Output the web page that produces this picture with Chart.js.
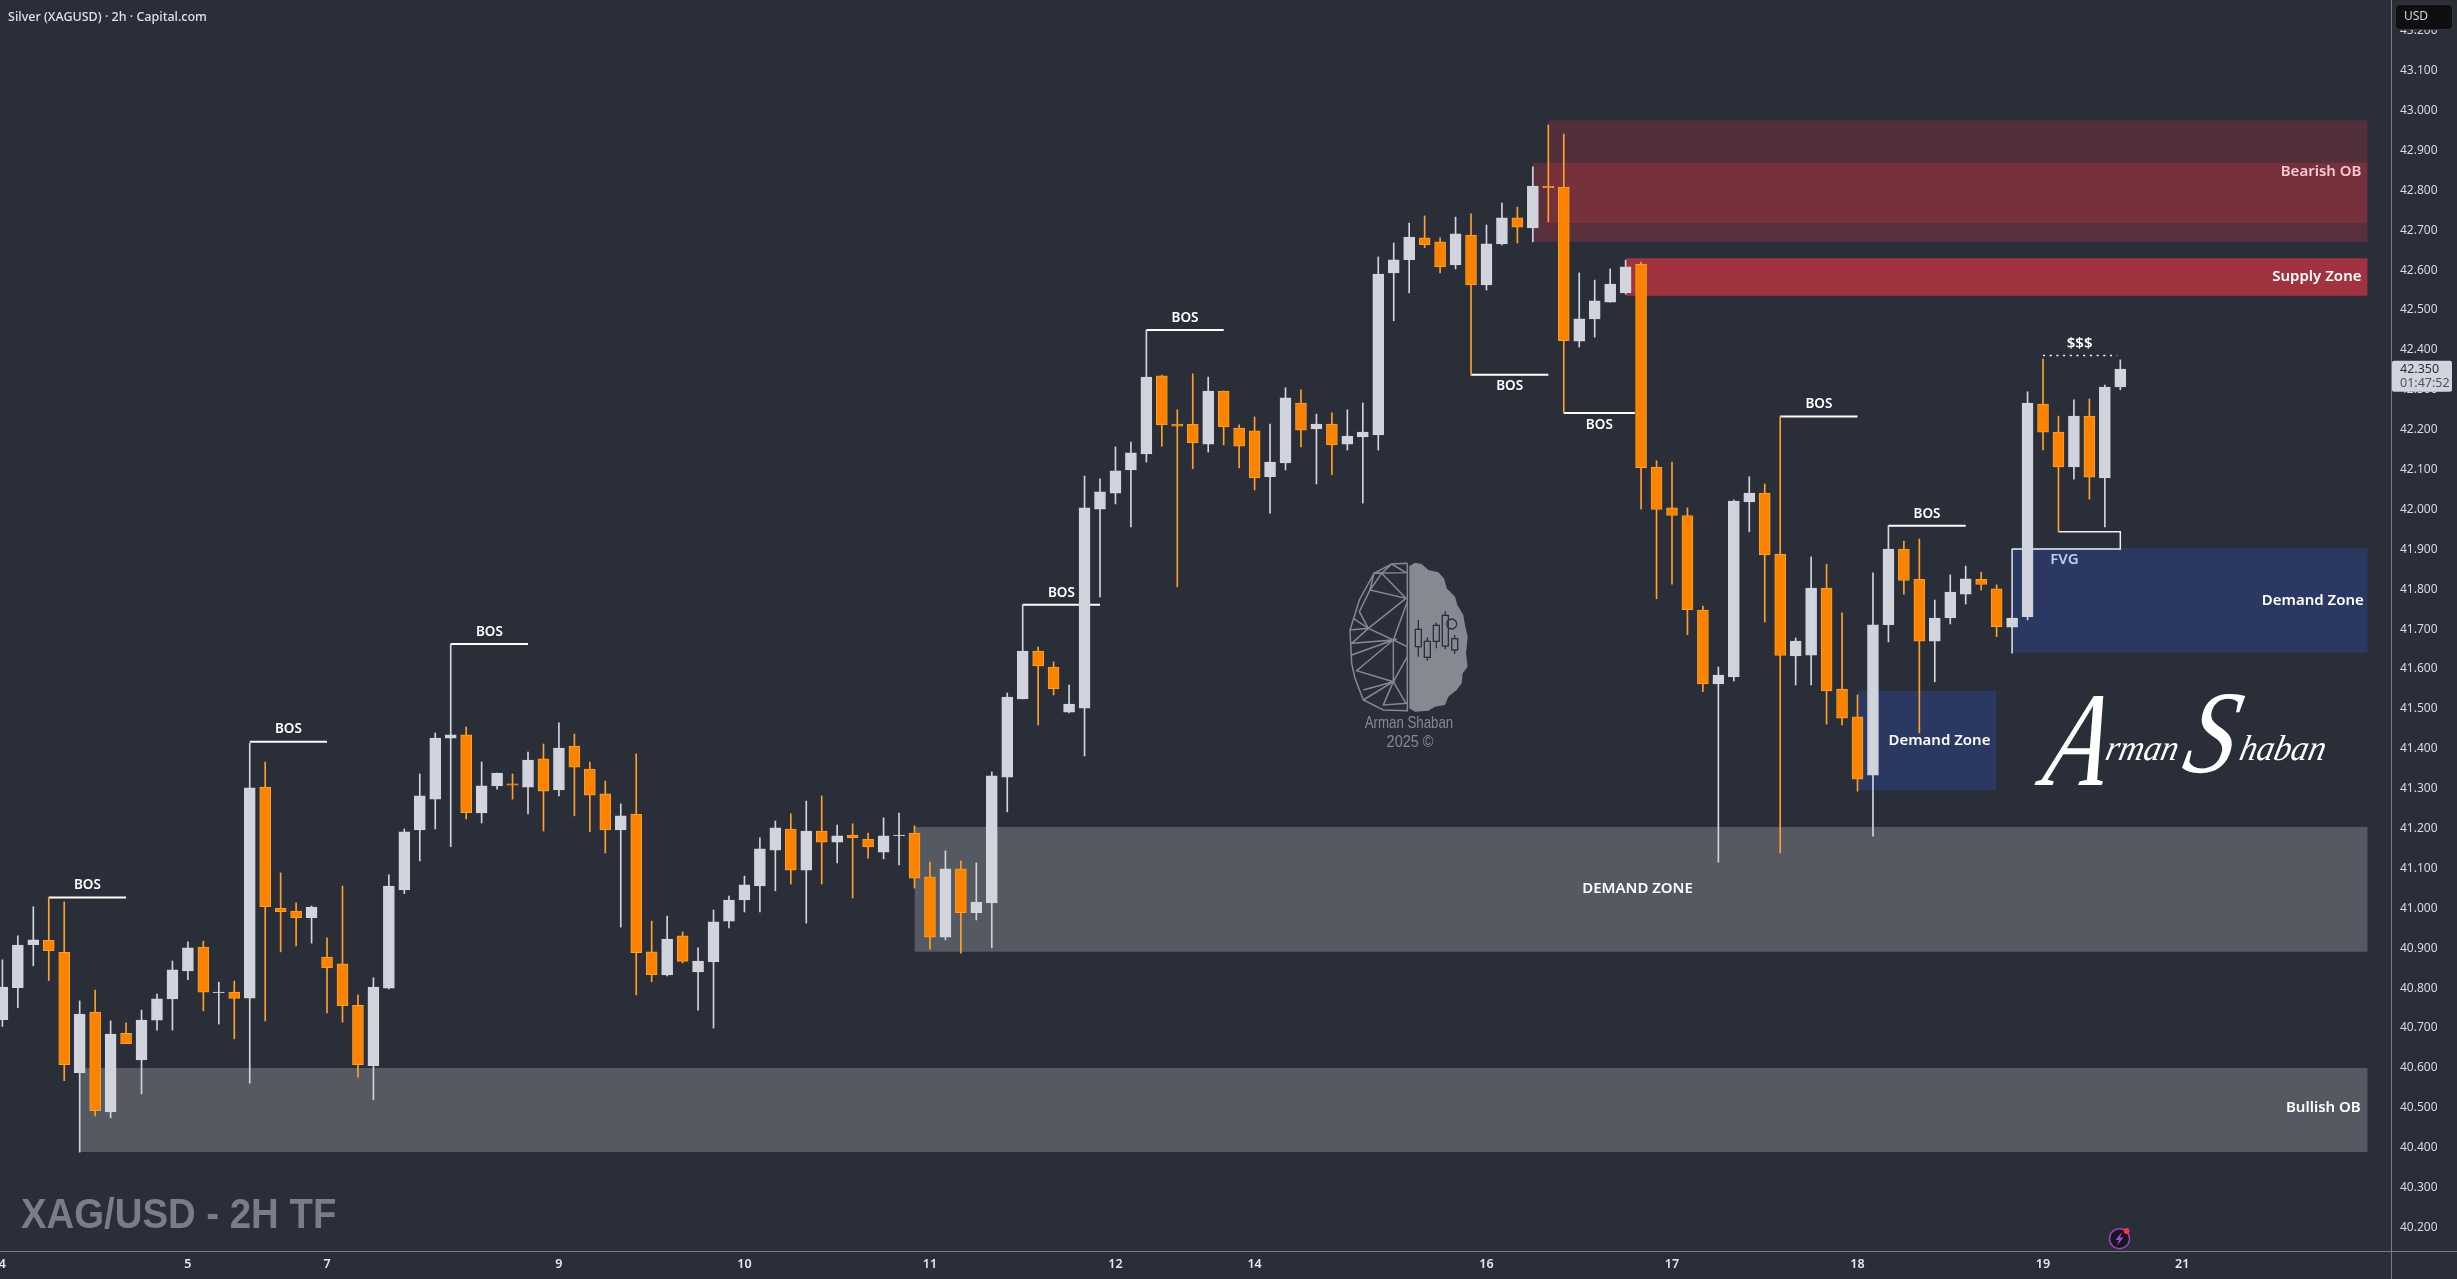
<!DOCTYPE html>
<html>
<head>
<meta charset="utf-8">
<title>XAG/USD 2H</title>
<style>
  html, body { margin: 0; padding: 0; background: #2a2e39; overflow: hidden; }
  canvas { display: block; }
</style>
<script src="https://cdn.jsdelivr.net/npm/chart.js@4/dist/chart.umd.min.js"></script>
</head>
<body>
<canvas id="xagChart" width="2457" height="1279"></canvas>
<script>
// candles, oldest first, one per 2h bar
const opens = [
  40.721, 40.801, 40.909, 40.920, 40.890, 40.588, 40.740, 40.490, 40.687, 40.620,
  40.720, 40.773, 40.843, 40.903, 40.789, 40.790, 40.775, 41.304, 41.000, 40.993,
  40.977, 40.878, 40.861, 40.757, 40.606, 40.800, 41.046, 41.197, 41.274, 41.427,
  41.435, 41.239, 41.307, 41.312, 41.304, 41.375, 41.297, 41.407, 41.349, 41.287,
  41.197, 41.236, 40.891, 40.833, 40.931, 40.841, 40.866, 40.968, 41.021, 41.056,
  41.146, 41.199, 41.096, 41.194, 41.166, 41.184, 41.174, 41.141, 41.182, 41.189,
  41.079, 40.928, 41.099, 40.989, 41.014, 41.329, 41.525, 41.645, 41.605, 41.492,
  41.502, 42.001, 42.041, 42.099, 42.139, 42.335, 42.214, 42.214, 42.164, 42.297,
  42.204, 42.197, 42.082, 42.117, 42.267, 42.202, 42.214, 42.164, 42.182, 42.187,
  42.593, 42.626, 42.681, 42.671, 42.613, 42.688, 42.563, 42.666, 42.731, 42.706,
  42.810, 42.808, 42.422, 42.478, 42.520, 42.543, 42.615, 42.106, 42.004, 41.985,
  41.748, 41.563, 41.580, 42.019, 42.041, 41.888, 41.633, 41.635, 41.803, 41.550,
  41.480, 41.334, 41.711, 41.901, 41.825, 41.670, 41.728, 41.788, 41.825, 41.801,
  41.705, 41.731, 42.264, 42.194, 42.107, 42.234, 42.079, 42.307
];
const highs = [
  40.871, 40.931, 41.004, 41.027, 41.016, 40.768, 40.795, 40.718, 40.713, 40.745,
  40.785, 40.868, 40.916, 40.918, 40.815, 40.818, 41.414, 41.367, 41.089, 41.014,
  41.006, 40.926, 41.056, 40.783, 40.826, 41.084, 41.199, 41.337, 41.440, 41.663,
  41.455, 41.367, 41.339, 41.337, 41.392, 41.412, 41.465, 41.437, 41.367, 41.319,
  41.262, 41.387, 40.968, 40.981, 40.941, 40.901, 40.996, 41.031, 41.081, 41.177,
  41.219, 41.237, 41.269, 41.282, 41.209, 41.212, 41.189, 41.227, 41.239, 41.207,
  41.116, 41.144, 41.119, 41.114, 41.342, 41.540, 41.761, 41.655, 41.618, 41.560,
  42.084, 42.077, 42.157, 42.169, 42.450, 42.337, 42.250, 42.340, 42.332, 42.297,
  42.212, 42.232, 42.214, 42.305, 42.300, 42.239, 42.242, 42.250, 42.267, 42.633,
  42.668, 42.718, 42.736, 42.681, 42.733, 42.741, 42.713, 42.768, 42.758, 42.859,
  42.964, 42.941, 42.593, 42.575, 42.603, 42.625, 42.620, 42.122, 42.119, 42.004,
  41.758, 41.605, 42.024, 42.082, 42.064, 42.233, 41.678, 41.881, 41.863, 41.741,
  41.535, 41.841, 41.959, 41.921, 41.926, 41.773, 41.836, 41.858, 41.843, 41.811,
  41.901, 42.295, 42.377, 42.234, 42.275, 42.277, 42.312, 42.375
];
const lows = [
  40.704, 40.751, 40.856, 40.819, 40.568, 40.389, 40.480, 40.475, 40.661, 40.535,
  40.695, 40.695, 40.821, 40.743, 40.710, 40.673, 40.562, 40.718, 40.891, 40.906,
  40.913, 40.738, 40.715, 40.577, 40.520, 40.798, 41.037, 41.119, 41.199, 41.155,
  41.224, 41.214, 41.299, 41.274, 41.237, 41.194, 41.282, 41.232, 41.192, 41.139,
  40.953, 40.783, 40.816, 40.831, 40.863, 40.745, 40.700, 40.951, 40.991, 40.991,
  41.044, 41.061, 40.963, 41.061, 41.114, 41.026, 41.126, 41.124, 41.109, 41.051,
  40.898, 40.921, 40.888, 40.971, 40.901, 41.242, 41.525, 41.460, 41.535, 41.490,
  41.382, 41.781, 42.014, 41.956, 42.119, 42.159, 41.806, 42.102, 42.144, 42.162,
  42.104, 42.049, 41.991, 42.099, 42.157, 42.064, 42.087, 42.149, 42.016, 42.149,
  42.473, 42.543, 42.656, 42.593, 42.603, 42.337, 42.550, 42.663, 42.668, 42.671,
  42.721, 42.243, 42.407, 42.432, 42.520, 42.540, 42.001, 41.776, 41.813, 41.686,
  41.543, 41.116, 41.570, 41.944, 41.718, 41.139, 41.560, 41.560, 41.462, 41.460,
  41.294, 41.181, 41.668, 41.788, 41.440, 41.568, 41.713, 41.763, 41.798, 41.681,
  41.640, 41.723, 42.149, 41.944, 42.076, 42.026, 41.956, 42.300
];
const closes = [
  40.803, 40.908, 40.921, 40.894, 40.608, 40.735, 40.493, 40.685, 40.661, 40.720,
  40.773, 40.846, 40.901, 40.790, 40.790, 40.774, 41.302, 41.004, 40.992, 40.977,
  41.003, 40.851, 40.756, 40.608, 40.803, 41.056, 41.192, 41.282, 41.427, 41.435,
  41.240, 41.307, 41.339, 41.309, 41.372, 41.294, 41.402, 41.354, 41.284, 41.197,
  41.232, 40.889, 40.834, 40.923, 40.867, 40.868, 40.966, 41.021, 41.059, 41.149,
  41.202, 41.096, 41.194, 41.166, 41.182, 41.177, 41.154, 41.182, 41.184, 41.076,
  40.928, 41.099, 40.989, 41.016, 41.332, 41.530, 41.645, 41.608, 41.550, 41.512,
  42.004, 42.044, 42.097, 42.142, 42.332, 42.212, 42.209, 42.167, 42.297, 42.207,
  42.159, 42.079, 42.119, 42.280, 42.199, 42.214, 42.162, 42.184, 42.194, 42.590,
  42.626, 42.683, 42.664, 42.608, 42.691, 42.563, 42.666, 42.731, 42.708, 42.811,
  42.807, 42.423, 42.478, 42.523, 42.565, 42.608, 42.105, 42.000, 41.985, 41.749,
  41.563, 41.585, 42.021, 42.041, 41.886, 41.634, 41.670, 41.803, 41.545, 41.477,
  41.324, 41.711, 41.901, 41.822, 41.670, 41.728, 41.793, 41.826, 41.812, 41.706,
  41.728, 42.267, 42.194, 42.107, 42.234, 42.081, 42.307, 42.352
];

const dayTickIdx = [0, 12, 21, 36, 48, 60, 72, 81, 96, 108, 120, 132, 141];
const dayTickLabels = ["4", "5", "7", "9", "10", "11", "12", "14", "16", "17", "18", "19", "21"];
const priceTicks = [
  40.2, 40.3, 40.4, 40.5, 40.6, 40.7, 40.8, 40.9, 41.0, 41.1, 41.2, 41.3, 41.4, 41.5, 41.6, 41.7,
  41.8, 41.9, 42.0, 42.1, 42.2, 42.3, 42.4, 42.5, 42.6, 42.7, 42.8, 42.9, 43.0, 43.1, 43.2
];

// zones, drawn back to front
const zoneStart = [100, 99, 105, 130, 120, 59, 5];
const zoneEnd = [153, 153, 153, 153, 129, 153, 153];
const zoneHigh = [42.976, 42.869, 42.630, 41.903, 41.545, 41.204, 40.600];
const zoneLow = [42.718, 42.671, 42.536, 41.641, 41.296, 40.891, 40.389];

const zoneLabels = ["Bearish OB", "Supply Zone", "Demand Zone", "Demand Zone", "DEMAND ZONE", "Bullish OB", "FVG", "$$$"];
const zoneLabelIdx = [152.6, 152.6, 152.75, 128.6, 109.35, 152.55, 134.3, 135.2];
const zoneLabelPrice = [42.846, 42.583, 41.771, 41.420, 41.050, 40.500, 41.873, 42.415];

// break of structure lines
const bosStart = [3, 16, 29, 66, 74, 95, 101, 115, 122];
const bosEnd = [8, 21, 34, 71, 79, 100, 105.6, 120, 127];
const bosPrice = [41.027, 41.418, 41.663, 41.761, 42.450, 42.338, 42.242, 42.233, 41.959];
const bosBelow = [false, false, false, false, false, true, true, false, false];

const liquidityIdx = [132, 136.8];
const liquidityPrice = [42.386, 42.386];
const fvgIdx = [133, 137, 137, 130];
const fvgPrice = [41.944, 41.944, 41.901, 41.901];

const lastPrice = 42.350;
const countdown = "01:47:52";

// colours
const BG = "#2a2e39";
const UP = "#d1d4dc";
const DOWN = "#fb8300";
const DOWN_EDGE = "#ffa028";
const AXIS = "#787b86";
const zoneColors = [
  "rgba(242,54,69,0.2)", "rgba(242,54,69,0.24)", "rgba(242,54,69,0.6)",
  "#2a3862", "#2a3862", "#555962", "#555962"
];
const zoneLabelColors = ["#f7c9cf", "#ffffff", "#ffffff", "#ffffff", "#ffffff", "#ffffff", "#bcd0f2", "#ffffff"];

const LABEL_FONT = '"Noto Sans", "Open Sans", sans-serif';
const NARROW_FONT = '"Liberation Sans", sans-serif';

const isUp = closes.map((c, i) => c >= opens[i]);

const datasets = [];

// bodies on top, then wicks, then lines, then zones
datasets.push({
  type: "bar",
  order: 1,
  grouped: false,
  barThickness: 11,
  data: opens.map((o, i) => ({ x: i, y: [o, closes[i]] })),
  backgroundColor: isUp.map((u) => (u ? UP : DOWN)),
  borderColor: isUp.map((u) => (u ? UP : DOWN_EDGE)),
  borderWidth: 1,
  borderSkipped: false,
});
datasets.push({
  type: "bar",
  order: 2,
  grouped: false,
  barThickness: 1,
  data: lows.map((l, i) => ({ x: i, y: [l, highs[i]] })),
  backgroundColor: isUp.map((u) => (u ? UP : DOWN_EDGE)),
});

bosPrice.forEach((p, i) => {
  datasets.push({
    type: "line",
    order: 3,
    data: [{ x: bosStart[i], y: p }, { x: bosEnd[i], y: p }],
    borderColor: "#ffffff",
    borderWidth: 2,
    pointRadius: 0,
  });
});
datasets.push({
  type: "line",
  order: 3,
  data: liquidityIdx.map((x, i) => ({ x: x, y: liquidityPrice[i] })),
  borderColor: "#ffffff",
  borderWidth: 1.5,
  borderDash: [2, 4.7],
  pointRadius: 0,
});
datasets.push({
  type: "line",
  order: 3,
  data: fvgIdx.map((x, i) => ({ x: x, y: fvgPrice[i] })),
  borderColor: "#e9eefb",
  borderWidth: 1.5,
  pointRadius: 0,
});

zoneHigh.forEach((p, i) => {
  datasets.push({
    type: "line",
    order: 10 + (zoneHigh.length - i),
    data: [{ x: zoneStart[i], y: p }, { x: zoneEnd[i], y: p }],
    borderWidth: 0,
    pointRadius: 0,
    fill: { value: zoneLow[i] },
    backgroundColor: zoneColors[i],
  });
});

// no condensed face is installed, so squeeze the sans one
function narrowText(ctx, text, x, y, sx) {
  ctx.save();
  ctx.translate(x, y);
  ctx.scale(sx, 1);
  ctx.fillText(text, 0, 0);
  ctx.restore();
}

// brain watermark
function drawBrain(ctx) {
  const ox = 1300, oy = 540;
  const pt = (p) => [ox + p[0] / 3, oy + p[1] / 3];
  ctx.save();
  ctx.fillStyle = "#868991";
  ctx.strokeStyle = "#868991";
  ctx.lineWidth = 1.5;
  const right = [[328, 78], [345, 68], [365, 72], [385, 90], [415, 97], [432, 115], [440, 145], [465, 170], [472, 195],
    [490, 225], [495, 255], [503, 290], [498, 340], [503, 380], [488, 400], [485, 430], [470, 450], [445, 470],
    [435, 495], [405, 500], [385, 512], [345, 515], [328, 505]];
  ctx.beginPath();
  right.forEach((p, i) => { const q = pt(p); i ? ctx.lineTo(q[0], q[1]) : ctx.moveTo(q[0], q[1]); });
  ctx.closePath();
  ctx.fill();
  // mesh of the left half
  const mesh = [
    [[322, 70], [275, 72], [222, 100], [178, 180], [150, 270], [155, 370], [165, 415], [190, 480], [250, 510], [322, 512], [322, 70]],
    [[275, 72], [318, 98], [222, 100], [210, 150], [318, 175], [205, 265], [280, 300], [322, 185]],
    [[275, 72], [245, 100], [318, 175]], [[222, 100], [245, 100], [210, 150], [178, 215], [205, 265], [150, 270]],
    [[205, 265], [160, 235]], [[205, 265], [155, 310], [280, 300], [155, 345], [280, 300], [170, 392], [280, 425], [190, 450]],
    [[280, 300], [280, 425], [322, 350]], [[280, 300], [322, 320]], [[280, 425], [250, 495], [322, 490]], [[280, 425], [190, 480]], [[280, 425], [318, 490]]
  ];
  mesh.forEach((line) => {
    ctx.beginPath();
    line.forEach((p, i) => { const q = pt(p); i ? ctx.lineTo(q[0], q[1]) : ctx.moveTo(q[0], q[1]); });
    ctx.stroke();
  });
  // tiny candles inside the right half
  ctx.strokeStyle = "#2a2e39";
  ctx.lineWidth = 1.3;
  [[355, 240, 350, 268, 320], [382, 292, 362, 304, 352], [409, 248, 325, 256, 304], [436, 214, 328, 226, 318], [464, 285, 342, 296, 330]]
    .forEach((c) => {
      ctx.beginPath();
      ctx.moveTo(ox + c[0] / 3, oy + c[1] / 3);
      ctx.lineTo(ox + c[0] / 3, oy + c[2] / 3);
      ctx.stroke();
      ctx.fillStyle = "#868991";
      ctx.fillRect(ox + (c[0] - 9) / 3, oy + c[3] / 3, 6, (c[4] - c[3]) / 3);
      ctx.strokeRect(ox + (c[0] - 9) / 3, oy + c[3] / 3, 6, (c[4] - c[3]) / 3);
    });
  ctx.beginPath();
  ctx.arc(ox + 455 / 3, oy + 252 / 3, 5, 0, Math.PI * 2);
  ctx.stroke();
  ctx.fillStyle = "#868991";
  ctx.textAlign = "center";
  ctx.textBaseline = "middle";
  ctx.font = "17px " + NARROW_FONT;
  narrowText(ctx, "Arman Shaban", 1409, 723, 0.78);
  narrowText(ctx, "2025 ©", 1410, 742, 0.85);
  ctx.restore();
}

function drawSignature(ctx) {
  const part = (text, size, x, y, sx) => {
    ctx.save();
    ctx.translate(x, y);
    ctx.transform(sx, 0, -0.22, 1, 0, 0);
    ctx.font = "italic " + size + 'px "Liberation Serif", serif';
    ctx.fillText(text, 0, 0);
    ctx.restore();
  };
  ctx.save();
  ctx.fillStyle = "#ffffff";
  ctx.textBaseline = "alphabetic";
  ctx.textAlign = "left";
  part("A", 135, 2040, 785, 0.75);
  part("rman", 36, 2104, 760, 0.95);
  part("S", 118, 2180, 772, 0.85);
  part("haban", 36, 2238, 760, 0.95);
  ctx.restore();
}

// watermark, header, price tag, axis line stubs
const overlayPlugin = {
  id: "overlay",
  afterDraw(chart) {
    const ctx = chart.ctx;
    const xs = chart.scales.x;
    const ys = chart.scales.y;

    // axis lines run on into the corner
    ctx.save();
    ctx.strokeStyle = AXIS;
    ctx.lineWidth = 1;
    ctx.beginPath();
    ctx.moveTo(xs.right + 0.5, ys.bottom);
    ctx.lineTo(xs.right + 0.5, chart.height);
    ctx.moveTo(xs.right, ys.bottom + 0.5);
    ctx.lineTo(chart.width, ys.bottom + 0.5);
    ctx.stroke();
    ctx.restore();

    drawBrain(ctx);
    drawSignature(ctx);

    ctx.save();
    ctx.textBaseline = "middle";

    // BOS labels
    ctx.textAlign = "center";
    ctx.fillStyle = "#ffffff";
    ctx.font = "600 13.5px " + LABEL_FONT;
    bosPrice.forEach((p, i) => {
      const mid = xs.getPixelForValue((bosStart[i] + bosEnd[i]) / 2);
      const y = ys.getPixelForValue(p) + (bosBelow[i] ? 12 : -12);
      ctx.fillText("BOS", mid, y);
    });

    // zone labels
    ctx.textAlign = "right";
    zoneLabels.forEach((t, i) => {
      ctx.fillStyle = zoneLabelColors[i];
      ctx.font = "600 15px " + LABEL_FONT;
      ctx.fillText(t, xs.getPixelForValue(zoneLabelIdx[i]), ys.getPixelForValue(zoneLabelPrice[i]));
    });

    // header
    ctx.textAlign = "left";
    ctx.fillStyle = "#dfe1e6";
    ctx.font = "500 12.5px " + LABEL_FONT;
    ctx.fillText("Silver (XAGUSD) · 2h · Capital.com", 8, 17);

    ctx.fillStyle = "#7a7d87";
    ctx.font = "bold 42px " + NARROW_FONT;
    narrowText(ctx, "XAG/USD - 2H TF", 21, 1216, 0.913);

    // price tag
    const tagY = ys.getPixelForValue(lastPrice);
    ctx.fillStyle = UP;
    ctx.beginPath();
    ctx.roundRect(xs.right + 1, tagY - 9, 60, 31, 2);
    ctx.fill();
    ctx.fillStyle = "#2a2e39";
    ctx.font = "12.5px " + LABEL_FONT;
    ctx.fillText(lastPrice.toFixed(3), 2400, tagY);
    ctx.fillStyle = "#50535e";
    ctx.fillText(countdown, 2400, tagY + 14);

    // currency button
    ctx.fillStyle = "#0f0f10";
    ctx.strokeStyle = "#333640";
    ctx.beginPath();
    ctx.roundRect(2395.5, 4.5, 57, 25, 4);
    ctx.fill();
    ctx.stroke();
    ctx.fillStyle = "#d1d4dc";
    ctx.font = "12px " + LABEL_FONT;
    ctx.fillText("USD", 2404, 17);

    // flash icon
    ctx.fillStyle = "#131722";
    ctx.strokeStyle = "#9c3fb0";
    ctx.lineWidth = 1.5;
    ctx.beginPath();
    ctx.arc(2119.5, 1238.7, 10, 0, Math.PI * 2);
    ctx.fill();
    ctx.stroke();
    ctx.fillStyle = "#a64bc4";
    ctx.beginPath();
    ctx.moveTo(2122, 1232);
    ctx.lineTo(2115.5, 1240);
    ctx.lineTo(2119, 1240);
    ctx.lineTo(2117, 1245.5);
    ctx.lineTo(2123.5, 1237.5);
    ctx.lineTo(2120, 1237.5);
    ctx.closePath();
    ctx.fill();
    ctx.fillStyle = "#f23645";
    ctx.beginPath();
    ctx.arc(2126.6, 1231, 3, 0, Math.PI * 2);
    ctx.fill();
    ctx.restore();
  },
};

// tick labels must not push the plot area in
function noLabelPadding(axis) {
  axis.paddingLeft = 0;
  axis.paddingRight = 0;
  axis.paddingTop = 0;
  axis.paddingBottom = 0;
}

new Chart(document.getElementById("xagChart"), {
  type: "bar",
  data: { datasets: datasets },
  plugins: [overlayPlugin],
  options: {
    responsive: false,
    animation: false,
    devicePixelRatio: 1,
    layout: { padding: 0 },
    plugins: {
      legend: { display: false },
      tooltip: { enabled: false },
      title: { display: false },
    },
    scales: {
      x: {
        type: "linear",
        offset: false,
        min: -0.155,
        max: 154.51,
        afterBuildTicks: (axis) => {
          axis.ticks = dayTickIdx.map((v) => ({ value: v }));
        },
        afterFit: (axis) => {
          axis.height = 28;
          noLabelPadding(axis);
        },
        grid: { display: false, drawTicks: false },
        border: { color: AXIS },
        ticks: {
          autoSkip: false,
          maxRotation: 0,
          padding: 6,
          color: "#e6e8ee",
          font: { family: LABEL_FONT, size: 12.5, weight: "600" },
          callback: (v) => dayTickLabels[dayTickIdx.indexOf(v)],
        },
      },
      y: {
        position: "right",
        min: 40.1411,
        max: 43.2772,
        afterBuildTicks: (axis) => {
          axis.ticks = priceTicks.map((v) => ({ value: v }));
        },
        afterFit: (axis) => {
          axis.width = 66;
          noLabelPadding(axis);
        },
        grid: { display: false, drawTicks: false },
        border: { color: AXIS },
        ticks: {
          autoSkip: false,
          padding: 9,
          color: "#d9dbe1",
          font: { family: LABEL_FONT, size: 12 },
          callback: (v) => v.toFixed(3),
        },
      },
    },
  },
});
</script>
</body>
</html>
